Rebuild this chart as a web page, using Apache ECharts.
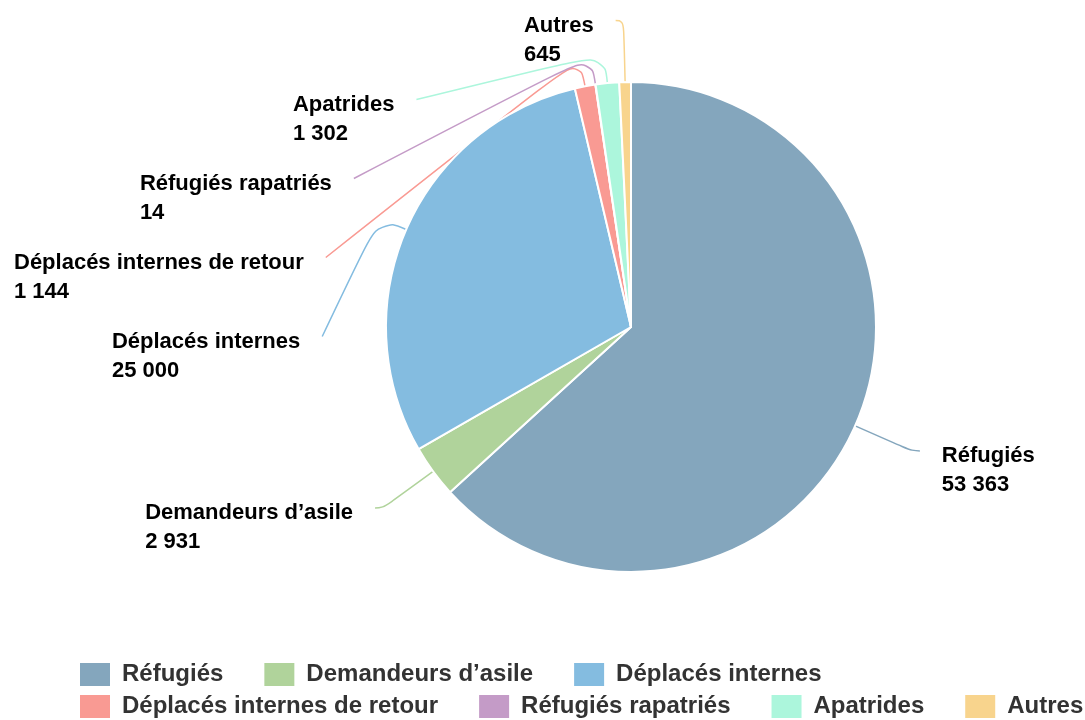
<!DOCTYPE html>
<html>
<head>
<meta charset="utf-8">
<script src="https://cdn.jsdelivr.net/npm/echarts@6/dist/echarts.min.js"></script>
<style>
  html, body { margin: 0; padding: 0; background: #fff; }
  #chart { width: 1085px; height: 720px; }
</style>
</head>
<body>
<div id="chart"></div>
<script>
const categories = ['Réfugiés', "Demandeurs d’asile", 'Déplacés internes', 'Déplacés internes de retour', 'Réfugiés rapatriés', 'Apatrides', 'Autres']
const values = [53363, 2931, 25000, 1144, 14, 1302, 645]
const colors = ['#84a6bd', '#b0d39b', '#84bce0', '#f99a93', '#c49bc7', '#acf6dc', '#f8d48d']

const CX = 631, CY = 327, R = 245

const fmt = v => String(v).replace(/\B(?=(\d{3})+(?!\d))/g, ' ')

// text sits a bit away from / below the line end; the stacked upper labels
// get lifted a little and their line gets a short radial stub before bending
const placeLabel = params => {
  const pts = params.labelLinePoints
  const side = params.align === 'right' ? -1 : 1
  if (!pts || pts[0][1] > CY) return { dx: side * 17, dy: 19.5 }
  const lift = 19
  const p0 = pts[0].slice()
  const ux = (p0[0] - CX) / R, uy = (p0[1] - CY) / R
  const end = [pts[2][0], pts[2][1] - lift]
  let t = uy < 0 ? (end[1] - p0[1]) / uy : 0
  if (!(t > 30 && t <= 62)) t = 30
  const p1 = [p0[0] + ux * t, p0[1] + uy * t]
  return { dx: side * 17, dy: 19.5 - lift, labelLinePoints: [p0, p1, end] }
}

const chart = echarts.init(document.getElementById('chart'))
const option = {
  color: colors,
  textStyle: { fontFamily: '"Liberation Sans", Arial, sans-serif' },
  legend: {
    left: 78,
    top: 661,
    width: 1100,
    padding: 0,
    itemWidth: 32,
    itemHeight: 25,
    itemGap: 5,
    icon: 'rect',
    textStyle: {
      fontSize: 24,
      fontWeight: 'bold',
      color: '#333',
      lineHeight: 25,
      padding: [0, 34, 0, 6]
    },
    data: categories
  },
  series: [
    {
      type: 'pie',
      center: [CX, CY],
      radius: R,
      startAngle: 90,
      clockwise: true,
      itemStyle: { borderColor: '#fff', borderWidth: 2 },
      label: {
        position: 'outside',
        distanceToLabelLine: 5,
        minMargin: 28,
        formatter: p => '{a|' + p.name + '}\n{a|' + fmt(p.value) + '}',
        rich: {
          a: { align: 'left', fontSize: 22, fontWeight: 'bold', color: '#000', lineHeight: 29 }
        }
      },
      labelLine: { length: 62, length2: 8, smooth: 0.5, showAbove: true, lineStyle: { width: 1.5 } },
      labelLayout: placeLabel,
      data: categories.map((c, i) => ({ name: c, value: values[i] }))
    }
  ]
}
chart.setOption(option)
</script>
</body>
</html>
